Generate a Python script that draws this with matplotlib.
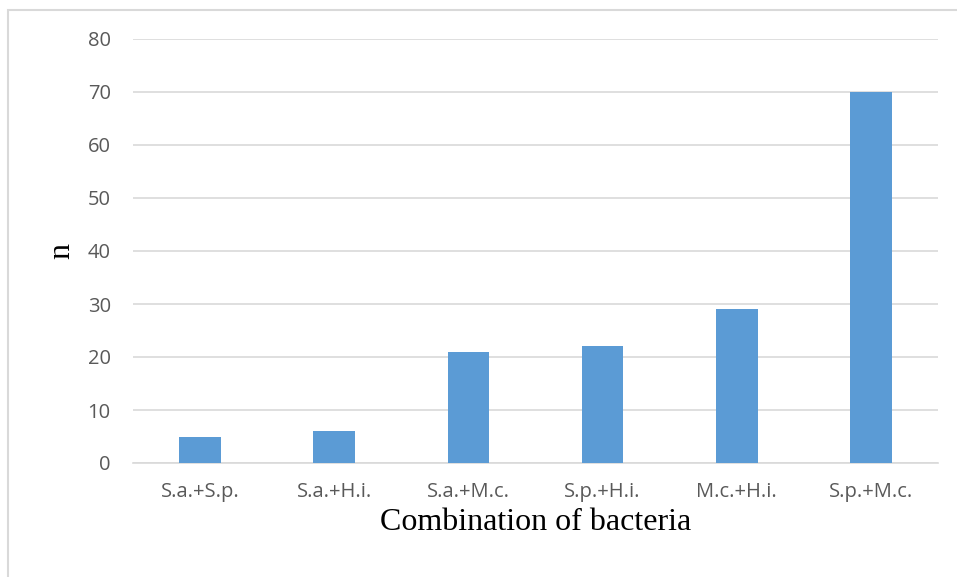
import matplotlib.pyplot as plt
from matplotlib.patches import Rectangle

# Data
categories = ['S.a.+S.p.', 'S.a.+H.i.', 'S.a.+M.c.', 'S.p.+H.i.', 'M.c.+H.i.', 'S.p.+M.c.']
counts = [5, 6, 21, 22, 29, 70]
yticks = [0, 10, 20, 30, 40, 50, 60, 70, 80]

W, H = 957, 577
fig = plt.figure(figsize=(W / 100, H / 100), dpi=100)

# outer chart frame (Excel style)
fig.patches.append(Rectangle((8 / W, -0.05), 1.1, 1 - 10 / H + 0.05,
                             transform=fig.transFigure, fill=False,
                             edgecolor='#d9d9d9', linewidth=1.5))

ax = fig.add_axes([133 / W, 1 - 463 / H, (938 - 133) / W, (463 - 39) / H])
x = range(len(categories))
ax.bar(x, counts, width=0.31, color='#5b9bd5', zorder=3)

ax.set_xlim(-0.5, len(categories) - 0.5)
ax.set_ylim(0, 80)
ax.set_yticks(yticks)
ax.set_xticks(list(x))
ax.set_xticklabels(categories)
ax.grid(axis='y', color='#d9d9d9', linewidth=1.2, zorder=0)
for s in ['top', 'right', 'left']:
    ax.spines[s].set_visible(False)
ax.spines['bottom'].set_color('#d9d9d9')
ax.spines['bottom'].set_linewidth(1.2)
ax.tick_params(length=0, labelsize=14.5, labelcolor='#595959')
ax.tick_params(axis='y', pad=16)
ax.tick_params(axis='x', pad=14)
for lab in ax.get_xticklabels() + ax.get_yticklabels():
    lab.set_family('Open Sans')

ax.set_xlabel('Combination of bacteria', family='Liberation Serif', fontsize=23, labelpad=4)
ax.set_ylabel('n', family='Liberation Serif', fontsize=23, labelpad=8)

fig.savefig('out.png', dpi=100)
